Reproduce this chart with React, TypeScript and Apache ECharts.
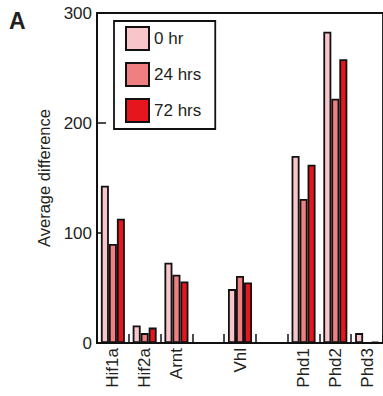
import React, { useEffect, useRef } from "react";
import * as echarts from "echarts";

const categories = ["Hif1a", "Hif2a", "Arnt", "", "Vhl", "", "Phd1", "Phd2", "Phd3"];
const seriesNames = ["0 hr", "24 hrs", "72 hrs"];
const values0hr = [143, 16, 73, null, 49, null, 170, 283, 9];
const values24hrs = [90, 9, 62, null, 61, null, 131, 222, 0.3];
const values72hrs = [113, 14, 56, null, 55, null, 162, 258, 1];
const yTicks = { min: 0, max: 300, interval: 100 };
const colors = ["#f8c6ca", "#ef7f80", "#e5161e"];

export default function App() {
  const ref = useRef<HTMLDivElement>(null);
  useEffect(() => {
    document.body.style.margin = "0";
    const chart = echarts.init(ref.current!, null, { renderer: "svg" });
    const font = "'Liberation Sans', Arial, sans-serif";
    const textColor = "#231f20";
    const data = [values0hr, values24hrs, values72hrs];
    chart.setOption({
      animation: false,
      textStyle: { fontFamily: font },
      grid: {
        left: 97,
        width: 288,
        top: 13,
        bottom: 53,
        show: true,
        borderColor: "#111",
        borderWidth: 1.8,
        backgroundColor: "transparent",
      },
      legend: {
        left: 114,
        top: 21,
        orient: "vertical",
        padding: [5, 14, 6, 11],
        itemWidth: 23,
        itemHeight: 23,
        itemGap: 11,
        borderColor: "#111",
        borderWidth: 1.8,
        icon: "rect",
        itemStyle: { borderColor: "#111", borderWidth: 2 },
        textStyle: { fontSize: 17, color: textColor, fontFamily: font },
        data: seriesNames,
      },
      xAxis: {
        type: "category",
        data: categories,
        axisLine: { lineStyle: { color: "#111", width: 2 } },
        axisTick: { show: true, inside: true, length: 9, interval: 0, lineStyle: { color: "#111", width: 1.5 } },
        axisLabel: { interval: 0, rotate: 90, margin: 5, fontSize: 17, color: textColor, fontFamily: font },
        splitLine: { show: false },
      },
      yAxis: {
        type: "value",
        min: yTicks.min,
        max: yTicks.max,
        interval: yTicks.interval,
        name: "Average difference",
        nameLocation: "middle",
        nameGap: 39,
        nameTextStyle: { fontSize: 16.5, color: textColor, fontFamily: font },
        axisLine: { show: true, lineStyle: { color: "#111", width: 2 } },
        axisTick: { show: true, inside: true, length: 9, lineStyle: { color: "#111", width: 1.5 } },
        axisLabel: { margin: 5, fontSize: 17, color: textColor, fontFamily: font },
        splitLine: { show: false },
      },
      graphic: [
        {
          type: "text",
          left: 9,
          top: 9,
          style: { text: "A", fontSize: 23, fontWeight: "bold", fill: textColor, fontFamily: font },
        },
      ],
      series: seriesNames.map((name, i) => ({
        name,
        type: "bar",
        data: data[i],
        barWidth: 8,
        barGap: "0%",
        itemStyle: { color: colors[i], borderColor: "#111", borderWidth: 1.8 },
      })),
    });
    return () => chart.dispose();
  }, []);
  return <div ref={ref} style={{ width: 383, height: 396 }} />;
}
